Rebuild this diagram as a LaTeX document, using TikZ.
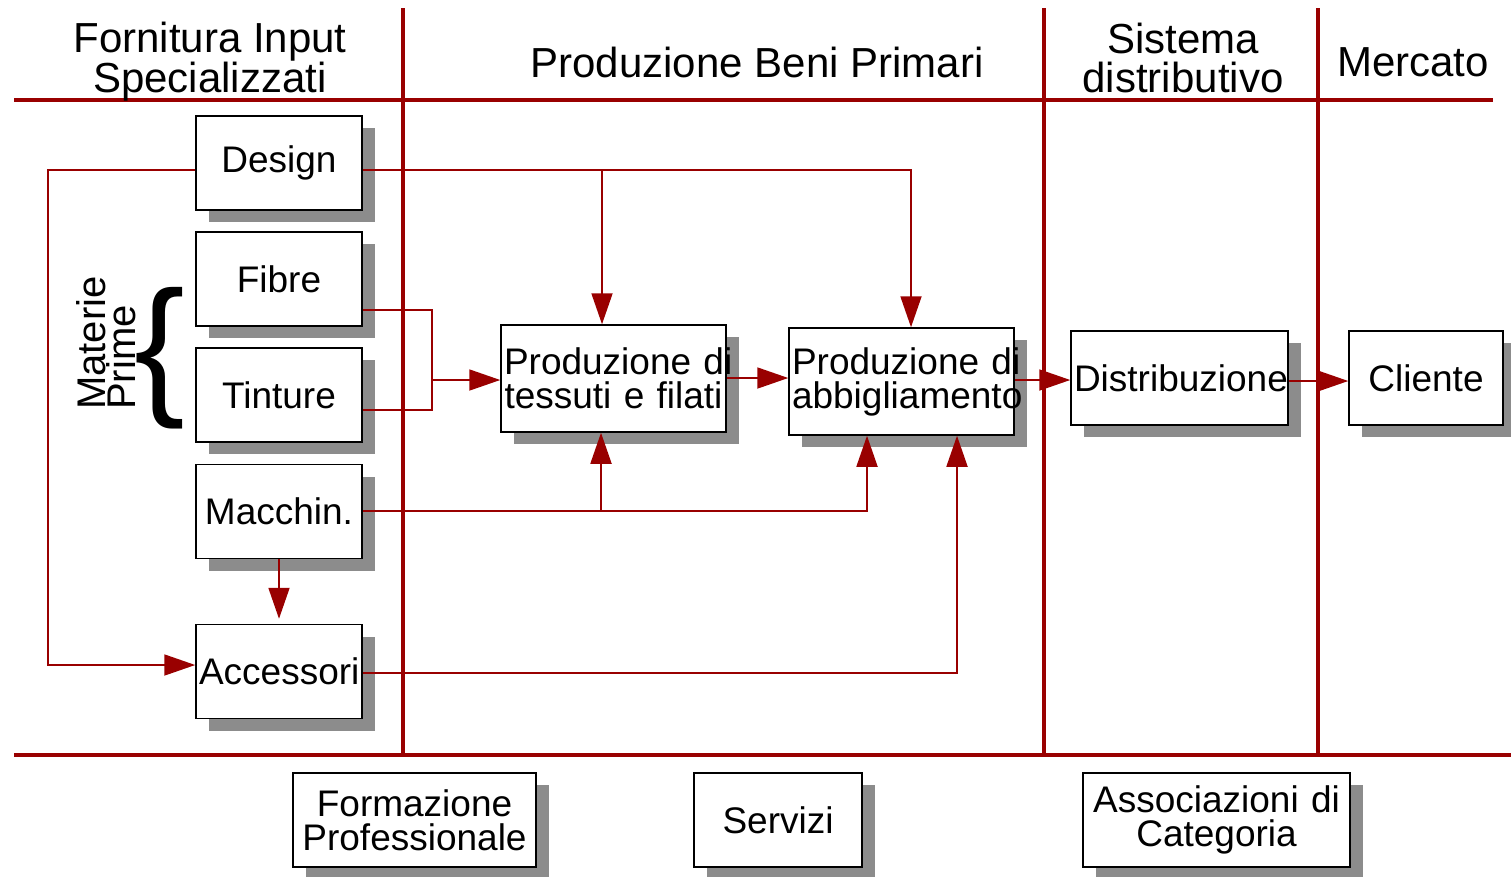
\documentclass[tikz,border=0pt]{standalone}
\usepackage{fontspec}
\setmainfont{Liberation Sans}
\usetikzlibrary{arrows.meta,shadows}
\definecolor{filiera}{HTML}{990000}

\begin{document}
\begin{tikzpicture}[x=1pt,y=-1pt,
        box/.style={draw=black, line width=1.5pt, fill=white, inner sep=3pt, align=center,
                font=\fontsize{37}{34}\selectfont,
                drop shadow={shadow xshift=13pt, shadow yshift=-12pt, fill=black!45, opacity=1}},
        sect/.style={draw=filiera, line width=4pt},
        conn/.style={draw=filiera, line width=1.8pt},
        arr/.style={conn, -{Triangle[length=31pt,width=21pt]}},
        head/.style={align=center, inner sep=0pt, font=\fontsize{42}{39}\selectfont}]
                \useasboundingbox (0,0) rectangle (1511,876);
                % sezioni della filiera
                \draw[sect] (14,100) -- (1493,100);
                \draw[sect] (14,755) -- (1511,755);
                \foreach \x in {403,1044,1318}
                        \draw[sect] (\x,8) -- (\x,755);
                \node[head] (hforn) at (210,62) {Fornitura Input\\Specializzati};
                \node[head] (hprod) at (757,62) {Produzione Beni Primari};
                \node[head] (hsist) at (1183,58) {Sistema\\distributivo};
                \node[head] (hmerc) at (1413,62) {Mercato};
                % input specializzati
                \node[box, text width=160pt, minimum height=94pt] (design) at (279,163) {Design};
                \node[box, text width=160pt, minimum height=94pt] (fibre) at (279,279) {Fibre};
                \node[box, text width=160pt, minimum height=94pt] (tinture) at (279,395) {Tinture};
                \node[box, text width=160pt, minimum height=94pt] (macchin) at (279,511.5) {Macchin.};
                \node[box, text width=160pt, minimum height=94pt] (accessori) at (279,671.5) {Accessori};
                \node[rotate=90, align=left, inner sep=0pt, font=\fontsize{40}{30}\selectfont] (materie) at (106,343) {Materie\\Prime};
                \node[inner sep=0pt, font=\fontsize{152}{152}\selectfont] (graffa) at (160,358) {\{};
                % produzione, distribuzione, mercato
                \node[box, text width=219pt, minimum height=107pt] (tessuti) at (613.5,378.5) {\mbox{Produzione di}\\\mbox{tessuti e filati}};
                \node[box, text width=219pt, minimum height=107pt] (abbigl) at (901.5,381.5) {\mbox{Produzione di}\\\mbox{abbigliamento}};
                \node[box, text width=211pt, minimum height=94pt] (distrib) at (1179.5,378) {Distribuzione};
                \node[box, text width=148pt, minimum height=94pt] (cliente) at (1426,378) {Cliente};
                % servizi di supporto
                \node[box, text width=237pt, minimum height=94pt] (formaz) at (414.5,820) {Formazione\\Professionale};
                \node[box, text width=162pt, minimum height=94pt] (servizi) at (778,820) {Servizi};
                \node[box, text width=261pt, minimum height=94pt] (assoc) at (1216.5,820) {\mbox{Associazioni di}\\Categoria};
                % collegamenti
                \coordinate (dsplit) at (602,170);
                \coordinate (jfibre) at (432,380);
                \coordinate (msplit) at (601,511);
                \draw[arr] (design.west |- 0,170) -- (48,170) |- (accessori.west |- 0,665);
                \draw[arr] (design.east |- 0,170) -| ([xshift=9.5pt]abbigl.north);
                \draw[arr] (dsplit) -- (dsplit |- tessuti.north);
                \draw[conn] (fibre.east |- 0,310) -| (jfibre) |- (tinture.east |- 0,410);
                \draw[arr] (jfibre) -- (tessuti.west |- jfibre);
                \draw[arr] (tessuti.east |- 0,378) -- (abbigl.west |- 0,378);
                \draw[arr] (abbigl.east |- 0,380) -- (distrib.west |- 0,380);
                \draw[arr] (distrib.east |- 0,381) -- (cliente.west |- 0,381);
                \draw[arr] (macchin.east |- 0,511) -| ([xshift=-34.5pt]abbigl.south);
                \draw[arr] (msplit) -- (msplit |- tessuti.south);
                \draw[arr] (macchin.south) -- ([yshift=5pt]accessori.north);
                \draw[arr] (accessori.east |- 0,673) -| ([xshift=55.5pt]abbigl.south);
\end{tikzpicture}
\end{document}
